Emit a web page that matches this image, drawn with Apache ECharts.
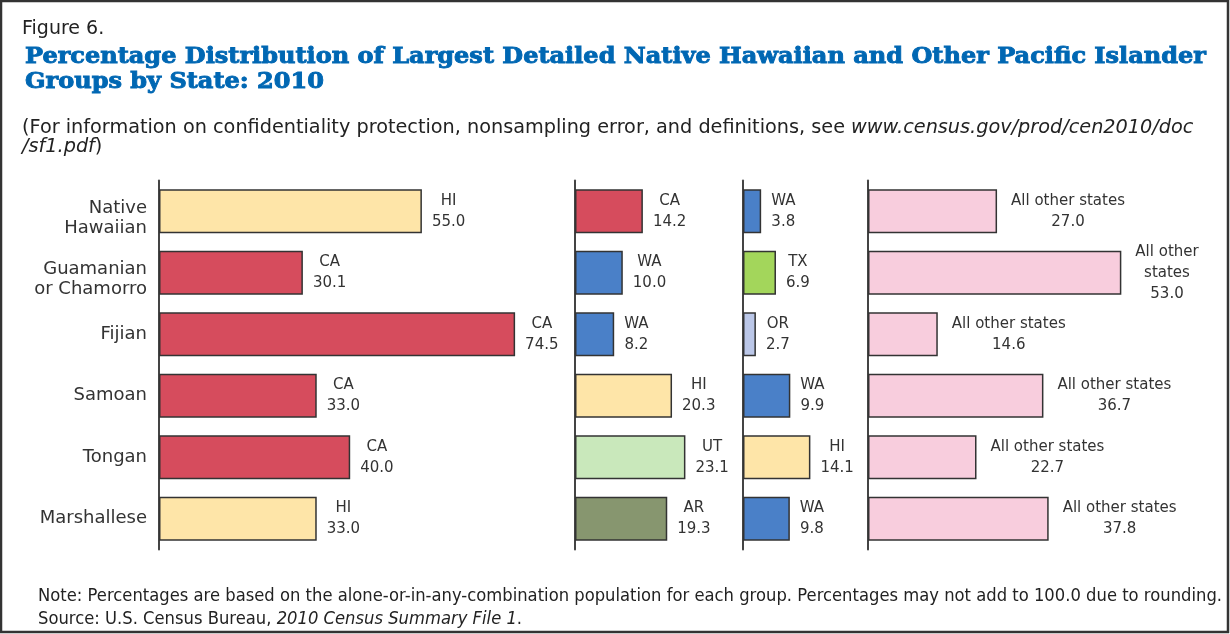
<!DOCTYPE html>
<html>
<head>
<meta charset="utf-8">
<script src="https://cdn.jsdelivr.net/npm/echarts@6/dist/echarts.min.js"></script>
<style>
  html, body { margin: 0; padding: 0; background: #ffffff; }
  #chart { width: 1230px; height: 634px; }
</style>
</head>
<body>
<div id="chart"></div>
<script>
// ---------- data ----------
const groups = ['Native\nHawaiian', 'Guamanian\nor Chamorro', 'Fijian', 'Samoan', 'Tongan', 'Marshallese'];

const panel1States = ['HI', 'CA', 'CA', 'CA', 'CA', 'HI'];
const panel1Values = [55.0, 30.1, 74.5, 33.0, 40.0, 33.0];

const panel2States = ['CA', 'WA', 'WA', 'HI', 'UT', 'AR'];
const panel2Values = [14.2, 10.0, 8.2, 20.3, 23.1, 19.3];

const panel3States = ['WA', 'TX', 'OR', 'WA', 'HI', 'WA'];
const panel3Values = [3.8, 6.9, 2.7, 9.9, 14.1, 9.8];

const panel4Labels = ['All other states', 'All other\nstates', 'All other states', 'All other states', 'All other states', 'All other states'];
const panel4Values = [27.0, 53.0, 14.6, 36.7, 22.7, 37.8];

const figureLabel = 'Figure 6.';
const titleLine1 = 'Percentage Distribution of Largest Detailed Native Hawaiian and Other Pacific Islander';
const titleLine2 = 'Groups by State: 2010';
const subPlain = '(For information on confidentiality protection, nonsampling error, and definitions, see ';
const subItalic1 = 'www.census.gov/prod/cen2010/doc';
const subItalic2 = '/sf1.pdf';
const subEnd = ')';
const noteText = 'Note: Percentages are based on the alone-or-in-any-combination population for each group. Percentages may not add to 100.0 due to rounding.';
const sourcePlain = 'Source: U.S. Census Bureau, ';
const sourceItalic = '2010 Census Summary File 1';
const sourceEnd = '.';

// ---------- styles ----------
const stateColors = {
  HI: '#FEE5A8', CA: '#D64C5D', WA: '#4A80C8', TX: '#A3D65B',
  OR: '#BBC7E8', UT: '#C9E8BB', AR: '#87966F', OTHER: '#F8CDDD'
};
const SANS = "'DejaVu Sans'";
const SERIF = "'DejaVu Serif'";
const PX_PER_UNIT = 4.78;
const GRID_TOP = 180.5, GRID_H = 369;

const panels = [
  { left: 159, max: 80, states: panel1States, values: panel1Values, dist: 10 },
  { left: 575, max: 30, states: panel2States, values: panel2Values, dist: 10 },
  { left: 743, max: 20, states: panel3States, values: panel3Values, dist: 10 },
  { left: 868, max: 60, states: panel4Labels, values: panel4Values, dist: 14, other: true }
];

// text width helpers
const mctx = document.createElement('canvas').getContext('2d');
function measure(parts, family, size) {
  let w = 0;
  parts.forEach(p => {
    mctx.font = `${p.style || 'normal'} ${p.weight || 'normal'} ${size}px ${family}`;
    w += mctx.measureText(p.text).width;
  });
  return w;
}
function fitSize(parts, family, target) {
  return 100 * target / measure(parts, family, 100);
}

const TITLE_SIZE = 22;
const titleScale = 1181 / measure([{ text: titleLine1, weight: 'bold' }], SERIF, TITLE_SIZE);
const subSize = fitSize([{ text: subPlain }, { text: subItalic1, style: 'italic' }], SANS, 1172);
const NOTE_SIZE = 17.5;
const noteScale = 1184 / measure([{ text: noteText }], SANS, NOTE_SIZE);

const grids = [], xAxes = [], yAxes = [], series = [];
panels.forEach((p, i) => {
  grids.push({ left: p.left, top: GRID_TOP, width: p.max * PX_PER_UNIT, height: GRID_H, containLabel: false });
  xAxes.push({ gridIndex: i, type: 'value', min: 0, max: p.max, show: false });
  yAxes.push({
    gridIndex: i, type: 'category', inverse: true, data: groups,
    axisLine: { show: true, lineStyle: { color: '#444', width: 2 } },
    axisTick: { show: false },
    splitLine: { show: false },
    axisLabel: {
      show: i === 0, color: '#333', margin: 12, align: 'right',
      formatter: (v) => {
        const parts = v.split('\n');
        if (parts.length > 1) return `{e| }\n{g|${parts[0]}}\n{g|${parts[1]}}`;
        return `{g|${v}}`;
      },
      rich: {
        e: { fontSize: 2, lineHeight: 14 },
        g: { fontFamily: SANS, fontSize: 18, lineHeight: 20, color: '#333' }
      }
    }
  });
  series.push({
    type: 'bar', xAxisIndex: i, yAxisIndex: i, barWidth: 44,
    data: p.values.map((v, k) => ({
      value: v,
      itemStyle: { color: p.other ? stateColors.OTHER : stateColors[p.states[k]] }
    })),
    itemStyle: { borderColor: '#333', borderWidth: 1.5 },
    label: {
      show: true, position: 'right', distance: p.dist,
      formatter: (params) => {
        const k = params.dataIndex;
        const lines = p.states[k].split('\n').map(s => `{s|${s}}`);
        lines.push(`{s|${p.values[k].toFixed(1)}}`);
        return lines.join('\n');
      },
      rich: {
        s: { fontFamily: SANS, fontSize: 15, lineHeight: 21, align: 'center', color: '#333' }
      }
    }
  });
});

const graphic = [
  { type: 'rect', shape: { x: 1, y: 1, width: 1227, height: 631 },
    style: { fill: 'none', stroke: '#333', lineWidth: 2.5 }, silent: true },
  { type: 'text', x: 22, y: 29,
    style: { text: figureLabel, fontFamily: SANS, fontSize: 19, fill: '#222', align: 'left', verticalAlign: 'middle' } },
  { type: 'text', x: 25, y: 57, scaleX: titleScale,
    style: { text: titleLine1, fontFamily: SERIF, fontWeight: 'bold', fontSize: TITLE_SIZE, fill: '#0067B3',
      stroke: '#0067B3', lineWidth: 0.9, align: 'left', verticalAlign: 'middle' } },
  { type: 'text', x: 25, y: 82, scaleX: titleScale,
    style: { text: titleLine2, fontFamily: SERIF, fontWeight: 'bold', fontSize: TITLE_SIZE, fill: '#0067B3',
      stroke: '#0067B3', lineWidth: 0.9, align: 'left', verticalAlign: 'middle' } },
  { type: 'text', x: 22, y: 128,
    style: { text: subPlain + '{i|' + subItalic1 + '}', fontFamily: SANS, fontSize: subSize, fill: '#222', align: 'left', verticalAlign: 'middle',
      rich: { i: { fontFamily: SANS, fontSize: subSize, fontStyle: 'italic', fill: '#222' } } } },
  { type: 'text', x: 22, y: 147,
    style: { text: '{i|' + subItalic2 + '}' + subEnd, fontFamily: SANS, fontSize: subSize, fill: '#222', align: 'left', verticalAlign: 'middle',
      rich: { i: { fontFamily: SANS, fontSize: subSize, fontStyle: 'italic', fill: '#222' } } } },
  { type: 'text', x: 38, y: 596, scaleX: noteScale,
    style: { text: noteText, fontFamily: SANS, fontSize: NOTE_SIZE, fill: '#222', align: 'left', verticalAlign: 'middle' } },
  { type: 'text', x: 38, y: 619, scaleX: noteScale,
    style: { text: sourcePlain + '{i|' + sourceItalic + '}' + sourceEnd, fontFamily: SANS, fontSize: NOTE_SIZE, fill: '#222', align: 'left', verticalAlign: 'middle',
      rich: { i: { fontFamily: SANS, fontSize: NOTE_SIZE, fontStyle: 'italic', fill: '#222' } } } }
];

const chart = echarts.init(document.getElementById('chart'), null, { renderer: 'canvas' });
chart.setOption({
  animation: false,
  backgroundColor: '#ffffff',
  grid: grids,
  xAxis: xAxes,
  yAxis: yAxes,
  series: series,
  graphic: graphic
});
</script>
</body>
</html>
